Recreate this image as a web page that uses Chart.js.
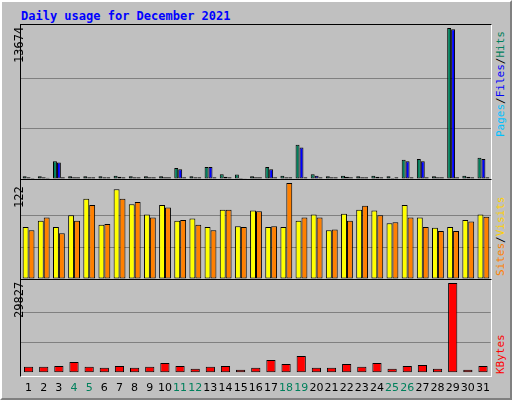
<!DOCTYPE html>
<html>
<head>
<meta charset="utf-8">
<script src="https://cdn.jsdelivr.net/npm/chart.js@4"></script>
<style>
  body { margin: 0; background: #fff; }
  #wrap { position: absolute; left: 0; top: 0; width: 508px; height: 396px; background: #c0c0c0;
          border-top: 2px solid #fff; border-left: 2px solid #fff; border-right: 2px solid #808080; border-bottom: 2px solid #808080; }
  #title { position: absolute; left: 19px; top: 7px; font: bold 12px "DejaVu Sans Mono", monospace; color: #0000ff; }
  .panel { position: absolute; left: 20px; width: 470px; border-top: 1px solid #000; border-left: 1px solid #000;
           border-right: 1px solid #fff; border-bottom: 1px solid #fff; background: #c0c0c0; }
  canvas { position: absolute; }
  .ymax { position: absolute; font: 12px "DejaVu Sans Mono", monospace; color: #000;
          transform: rotate(-90deg); transform-origin: left top; }
  .side { position: absolute; font: 11px "DejaVu Sans Mono", monospace; line-height: 13px;
          transform: rotate(-90deg); transform-origin: left top; white-space: nowrap; }
</style>
</head>
<body>
<div id="wrap">
  <div id="title">Daily usage for December 2021</div>
</div>
<div class="panel" style="top:24px;height:154px"><canvas id="c1"></canvas></div>
<div class="panel" style="top:179px;height:99px"><canvas id="c2"></canvas></div>
<div class="panel" style="top:279px;height:96px"></div>
<canvas id="c3" style="left:21px;top:280px"></canvas>
<div class="ymax" style="left:12px;top:63px">13674</div>
<div class="ymax" style="left:12px;top:208px">122</div>
<div class="ymax" style="left:12px;top:318px">29827</div>
<div class="side" style="left:494px;top:137px"><span style="color:#00c0ff">Pages</span><span style="color:#000">/</span><span style="color:#0000ff">Files</span><span style="color:#000">/</span><span style="color:#00805c">Hits</span></div>
<div class="side" style="left:494px;top:276px"><span style="color:#ff8000">Sites</span><span style="color:#000">/</span><span style="color:#ffd000">Visits</span></div>
<div class="side" style="left:494px;top:374px;color:#ff0000">KBytes</div>
<script>
const days = ["1","2","3","4","5","6","7","8","9","10","11","12","13","14","15","16","17","18","19","20","21","22","23","24","25","26","27","28","29","30","31"];
const weekend = ["4","5","11","12","18","19","25","26"];
const hits = [250,250,1600,250,250,250,300,250,250,250,1000,250,1080,430,400,250,1080,300,3100,430,250,300,250,300,250,1740,1820,250,13674,300,1920];
const files = [150,150,1500,150,150,150,200,150,150,150,880,150,1080,200,100,150,880,150,2850,300,150,200,150,200,100,1600,1600,150,13550,200,1820];
const pages = [100,120,150,150,150,150,150,150,150,150,150,150,150,150,60,150,150,150,150,150,150,150,150,150,150,150,150,150,150,150,150];
const visits = [66,74,66,81,102,69,114,95,82,94,74,77,66,88,67,87,66,66,74,82,62,83,88,87,71,94,78,65,66,75,82];
const sites = [62,78,58,74,94,70,102,98,78,91,75,69,62,88,66,86,67,122,78,78,63,74,93,81,72,78,66,61,61,73,79];
const kbytes = [1970,1970,2300,3600,1970,1640,2300,1640,1970,3280,2300,1310,1970,2300,980,1640,4260,2950,5570,1640,1640,2950,1970,3280,1310,2300,2620,1310,29827,980,2300];
const maxTop = 13674, maxMid = 122, maxBot = 29827;

function ds(data, color, bp) {
  return { data, backgroundColor: color, borderColor: "#000", borderWidth: 1, borderSkipped: false,
           barPercentage: bp, categoryPercentage: 0.78 };
}
function yScale(max) {
  return { min: 0, max, display: true, border: { display: false },
           ticks: { display: false, stepSize: max / 3 },
           grid: { color: (c) => (c.index === 1 || c.index === 2) ? "#808080" : "transparent", lineWidth: 1, drawTicks: false } };
}
function make(id, w, h, datasets, max, showX) {
  const el = document.getElementById(id);
  el.width = w; el.height = h;
  el.style.width = w + "px"; el.style.height = h + "px";
  return new Chart(el, {
    type: "bar",
    data: { labels: days, datasets },
    options: {
      responsive: false, animation: false,
      layout: { padding: { left: 0, right: 0, top: 3, bottom: 0 } },
      plugins: { legend: { display: false }, tooltip: { enabled: false } },
      scales: {
        x: { display: showX, grid: { display: false }, border: { display: false },
             ticks: { padding: 1, maxRotation: 0, autoSkip: false, font: { family: "DejaVu Sans", size: 11 },
                      color: (c) => weekend.includes(days[c.index]) ? "#00805c" : "#000" } },
        y: yScale(max)
      }
    }
  });
}
make("c1", 470, 154, [ds(hits, "#00805c", 1), ds(files, "#0000ff", 1), ds(pages, "#00c0ff", 1)], maxTop, false);
make("c2", 470, 99, [ds(visits, "#ffff00", 1), ds(sites, "#ff8000", 1)], maxMid, false);
make("c3", 470, 116, [ds(kbytes, "#ff0000", 0.78)], maxBot, true);
</script>
</body>
</html>
